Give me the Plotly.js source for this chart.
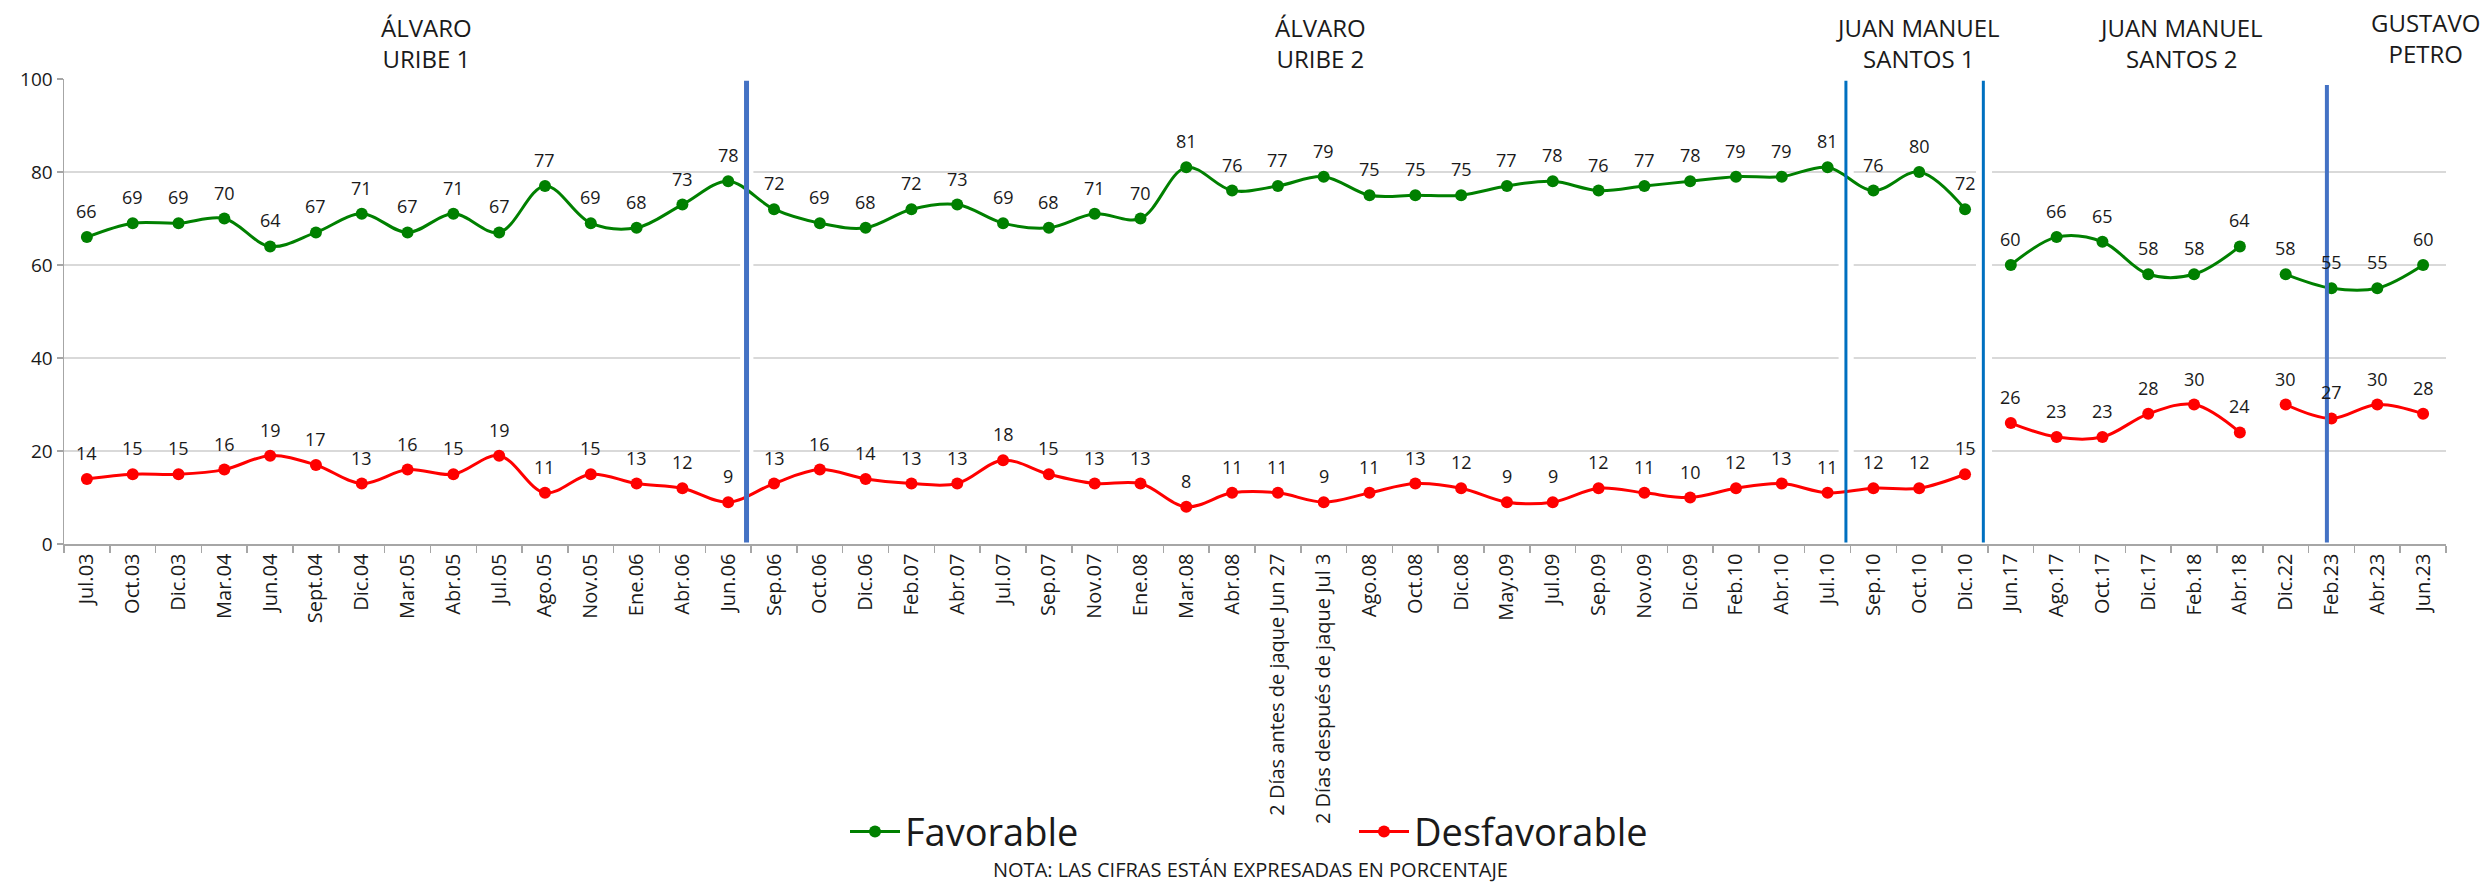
<!DOCTYPE html>
<html>
<head>
<meta charset="utf-8">
<script src="https://cdn.plot.ly/plotly-3.0.1.min.js"></script>
<style>
html,body{margin:0;padding:0;background:#fff;}
#chart{width:2484px;height:885px;}
</style>
</head>
<body>
<div id="chart"></div>
<script>
const categories = ["Jul.03","Oct.03","Dic.03","Mar.04","Jun.04","Sept.04","Dic.04","Mar.05","Abr.05","Jul.05","Ago.05","Nov.05","Ene.06","Abr.06","Jun.06","Sep.06","Oct.06","Dic.06","Feb.07","Abr.07","Jul.07","Sep.07","Nov.07","Ene.08","Mar.08","Abr.08","2 Días antes de jaque Jun 27","2 Días después de jaque Jul 3","Ago.08","Oct.08","Dic.08","May.09","Jul.09","Sep.09","Nov.09","Dic.09","Feb.10","Abr.10","Jul.10","Sep.10","Oct.10","Dic.10","Jun.17","Ago.17","Oct.17","Dic.17","Feb.18","Abr.18","Dic.22","Feb.23","Abr.23","Jun.23"];
const favorable = [66,69,69,70,64,67,71,67,71,67,77,69,68,73,78,72,69,68,72,73,69,68,71,70,81,76,77,79,75,75,75,77,78,76,77,78,79,79,81,76,80,72,60,66,65,58,58,64,58,55,55,60];
const desfavorable = [14,15,15,16,19,17,13,16,15,19,11,15,13,12,9,13,16,14,13,13,18,15,13,13,8,11,11,9,11,13,12,9,9,12,11,10,12,13,11,12,12,15,26,23,23,28,30,24,30,27,30,28];
// index ranges of connected line segments
const segments = [[0,42],[42,48],[48,52]];
const periodTitles = ["ÁLVARO<br>URIBE 1","ÁLVARO<br>URIBE 2","JUAN MANUEL<br>SANTOS 1","JUAN MANUEL<br>SANTOS 2","GUSTAVO<br>PETRO"];
const seriesNames = ["Favorable","Desfavorable"];
const yTicks = [0,20,40,60,80,100];
const noteText = "NOTA: LAS CIFRAS ESTÁN EXPRESADAS EN PORCENTAJE";

const FONT = "'Open Sans', 'Noto Sans', sans-serif";
const series = [
  {name: seriesNames[0], values: favorable, color: "#008000", legend: "legend"},
  {name: seriesNames[1], values: desfavorable, color: "#ff0000", legend: "legend2"}
];

const traces = [];
const annotations = [];
series.forEach(s => {
  segments.forEach((seg, si) => {
    const xs = categories.slice(seg[0], seg[1]);
    const ys = s.values.slice(seg[0], seg[1]);
    traces.push({
      type: "scatter", mode: "lines+markers",
      x: xs, y: ys, name: s.name,
      legendgroup: s.name, showlegend: si === 0, legend: s.legend,
      line: {color: s.color, width: 3, shape: "spline", smoothing: 1},
      marker: {color: s.color, size: 12},
      hoverinfo: "skip", cliponaxis: false
    });
    xs.forEach((c, i) => {
      annotations.push({
        x: c, y: ys[i], xref: "x", yref: "y", text: String(ys[i]),
        showarrow: false, yshift: 26,
        font: {family: FONT, size: 18, color: "#1a1a1a"}
      });
    });
  });
});

// period titles
const titlePos = [[7.41,1.077],[26.93,1.077],[39.98,1.077],[45.71,1.077],[51.06,1.089]];
periodTitles.forEach((t, i) => {
  annotations.push({
    x: titlePos[i][0], y: titlePos[i][1], xref: "x", yref: "paper",
    text: t, showarrow: false, xanchor: "center", yanchor: "middle",
    font: {family: FONT, size: 24, color: "#1a1a1a"}
  });
});
annotations.push({
  x: 0.498, y: -0.701, xref: "paper", yref: "paper", text: noteText,
  showarrow: false, xanchor: "center", yanchor: "middle",
  font: {family: FONT, size: 20, color: "#1a1a1a"}
});

const shapes = [];
// gaps in gridlines around separators
[[14.26,14.55],[38.24,38.57],[41.24,41.59]].forEach(g => {
  shapes.push({type: "rect", layer: "between", xref: "x", yref: "y",
    x0: g[0], x1: g[1], y0: 1.5, y1: 101, line: {width: 0}, fillcolor: "#ffffff"});
});
// separators
[[14.4,5,"#4472c4",99.6],[38.4,3,"#0070c0",99.6],[41.4,3,"#0070c0",99.6],[48.9,4,"#4472c4",98.7]].forEach(s => {
  shapes.push({type: "line", layer: "above", xref: "x", yref: "y",
    x0: s[0], x1: s[0], y0: 0.3, y1: s[3], line: {color: s[2], width: s[1]}});
});

const layout = {
  width: 2484, height: 885,
  paper_bgcolor: "#ffffff", plot_bgcolor: "#ffffff",
  margin: {l: 64, r: 38, t: 79, b: 341},
  font: {family: FONT, color: "#1a1a1a"},
  xaxis: {
    type: "category", categoryorder: "array", categoryarray: categories,
    range: [-0.5, categories.length - 0.5],
    showgrid: false, showline: true, linecolor: "#a6a6a6", linewidth: 1.5,
    ticks: "outside", tickson: "boundaries", ticklen: 7, tickcolor: "#a6a6a6", tickwidth: 1.5,
    tickangle: -90, tickfont: {family: FONT, size: 20, color: "#1a1a1a"},
    fixedrange: true
  },
  yaxis: {
    range: [0, 100], tickvals: yTicks, ticktext: yTicks.map(String),
    showgrid: true, gridcolor: "#d9d9d9", gridwidth: 1.5,
    showline: true, linecolor: "#a6a6a6", linewidth: 1.5,
    ticks: "outside", ticklen: 6, tickcolor: "#a6a6a6", tickwidth: 1.5,
    tickfont: {family: FONT, size: 19, color: "#1a1a1a"},
    zeroline: false, fixedrange: true
  },
  legend: {
    orientation: "h", x: (845 - 64) / 2382, xanchor: "left", y: -0.619, yanchor: "middle",
    font: {family: FONT, size: 38, color: "#1a1a1a"}, bgcolor: "rgba(0,0,0,0)", itemwidth: 50
  },
  legend2: {
    orientation: "h", x: (1354 - 64) / 2382, xanchor: "left", y: -0.619, yanchor: "middle",
    font: {family: FONT, size: 38, color: "#1a1a1a"}, bgcolor: "rgba(0,0,0,0)", itemwidth: 50
  },
  annotations: annotations,
  shapes: shapes,
  showlegend: true
};

Plotly.newPlot("chart", traces, layout, {displayModeBar: false, staticPlot: true});
</script>
</body>
</html>
